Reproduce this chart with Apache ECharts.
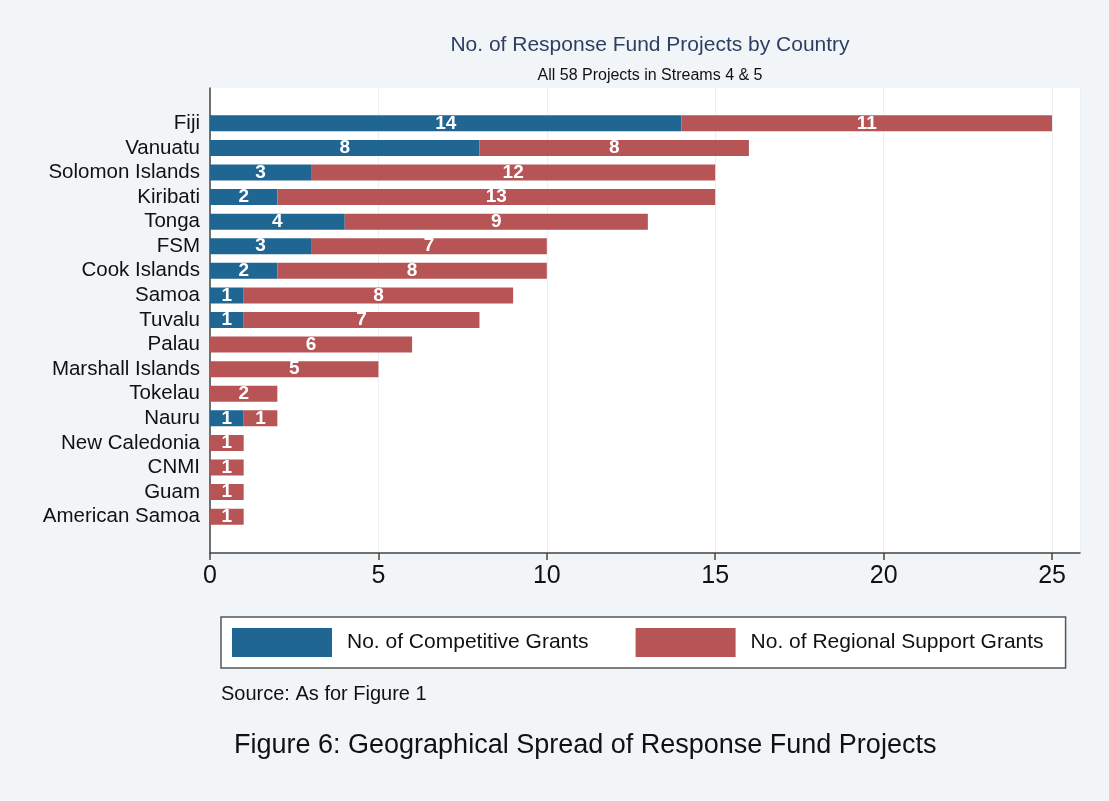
<!DOCTYPE html>
<html>
<head>
<meta charset="utf-8">
<script src="https://cdn.jsdelivr.net/npm/echarts@6/dist/echarts.min.js"></script>
<style>
  html, body { margin: 0; padding: 0; background: #f2f5f7; }
  #chart { width: 1109px; height: 801px; }
</style>
</head>
<body>
<div id="chart"></div>
<script>
const countries = ['Fiji', 'Vanuatu', 'Solomon Islands', 'Kiribati', 'Tonga', 'FSM', 'Cook Islands',
  'Samoa', 'Tuvalu', 'Palau', 'Marshall Islands', 'Tokelau', 'Nauru', 'New Caledonia', 'CNMI', 'Guam',
  'American Samoa']
const competitive = [14, 8, 3, 2, 4, 3, 2, 1, 1, 0, 0, 0, 1, 0, 0, 0, 0]
const regional = [11, 8, 12, 13, 9, 7, 8, 8, 7, 6, 5, 2, 1, 1, 1, 1, 1]
const xTicks = [0, 5, 10, 15, 20, 25]

const blue = '#1f6692'
const red = '#b65456'
const font = 'Liberation Sans, Arial, Helvetica, sans-serif'

const chart = echarts.init(document.getElementById('chart'))

const barLabel = {
  show: true,
  position: 'inside',
  color: '#fff',
  fontSize: 19,
  fontWeight: 'bold',
  fontFamily: font,
  formatter: (p) => (p.value > 0 ? String(p.value) : '')
}

const option = {
  backgroundColor: '#f2f5f7',
  animation: false,
  title: [
    {
      text: 'No. of Response Fund Projects by Country',
      left: 645,
      top: 30,
      textAlign: 'center',
      textStyle: { color: '#2c3f63', fontSize: 21, fontWeight: 'normal', fontFamily: font }
    },
    {
      text: 'All 58 Projects in Streams 4 & 5',
      left: 645,
      top: 63,
      textAlign: 'center',
      textStyle: { color: '#111', fontSize: 16, fontWeight: 'normal', fontFamily: font }
    },
    {
      text: 'Source: As for Figure 1',
      left: 216,
      top: 679,
      textStyle: { color: '#111', fontSize: 20, fontWeight: 'normal', fontFamily: font }
    },
    {
      text: 'Figure 6: Geographical Spread of Response Fund Projects',
      left: 229,
      top: 727,
      textStyle: { color: '#111', fontSize: 27, fontWeight: 'normal', fontFamily: font }
    }
  ],
  legend: {
    data: ['No. of Competitive Grants', 'No. of Regional Support Grants'],
    left: 221,
    top: 617,
    orient: 'horizontal',
    itemWidth: 100,
    itemHeight: 29,
    itemGap: 47,
    padding: [11, 22, 11, 11],
    backgroundColor: '#fff',
    borderColor: '#555',
    borderWidth: 1.5,
    borderRadius: 0,
    icon: 'rect',
    textStyle: { color: '#111', fontSize: 21, fontFamily: font, padding: [0, 0, 0, 10] }
  },
  grid: [
    {
      left: 210, right: 29, top: 88, bottom: 248,
      show: true, backgroundColor: '#fff', borderWidth: 0
    },
    {
      left: 210, right: 29, top: 111, bottom: 272
    }
  ],
  xAxis: [
    {
      gridIndex: 0,
      type: 'value',
      min: 0,
      max: 25.83,
      interval: 5,
      axisLine: { show: true, lineStyle: { color: '#444', width: 1.5 } },
      axisTick: { show: true, length: 7, lineStyle: { color: '#444', width: 1.5 } },
      axisLabel: {
        color: '#111', fontSize: 25, fontFamily: font, margin: 11,
        showMaxLabel: false,
        formatter: (v) => (xTicks.includes(v) ? String(v) : '')
      },
      splitLine: { show: true, lineStyle: { color: '#eceef0', width: 1 } }
    },
    {
      gridIndex: 1,
      type: 'value',
      min: 0,
      max: 25.83,
      show: false
    }
  ],
  yAxis: [
    {
      gridIndex: 0,
      type: 'value',
      min: 0,
      max: 1,
      axisLine: { show: true, lineStyle: { color: '#444', width: 1.5 } },
      axisTick: { show: false },
      axisLabel: { show: false },
      splitLine: { show: false }
    },
    {
      gridIndex: 1,
      type: 'category',
      data: countries,
      inverse: true,
      axisLine: { show: false },
      axisTick: { show: false },
      axisLabel: { color: '#111', fontSize: 20.5, fontFamily: font, margin: 10, interval: 0 }
    }
  ],
  series: [
    {
      name: 'No. of Competitive Grants',
      type: 'bar',
      stack: 'total',
      xAxisIndex: 1,
      yAxisIndex: 1,
      barWidth: 16,
      itemStyle: { color: blue },
      label: barLabel,
      data: competitive
    },
    {
      name: 'No. of Regional Support Grants',
      type: 'bar',
      stack: 'total',
      xAxisIndex: 1,
      yAxisIndex: 1,
      barWidth: 16,
      itemStyle: { color: red },
      label: barLabel,
      data: regional
    }
  ]
}

chart.setOption(option)
</script>
</body>
</html>
